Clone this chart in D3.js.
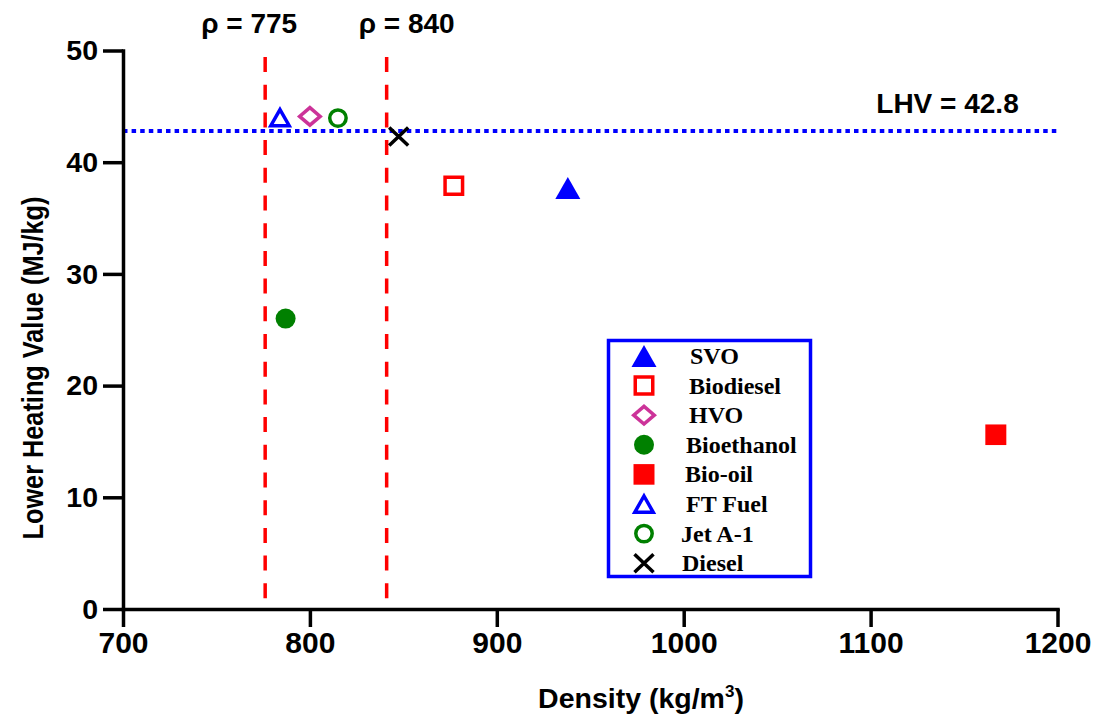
<!DOCTYPE html>
<html><head><meta charset="utf-8">
<script src="https://cdn.jsdelivr.net/npm/d3@7"></script>
<style>body{margin:0;background:#fff} svg{display:block}</style>
</head><body><svg id="c" width="1094" height="717"></svg>
<script>
// ---- data ----
const fuels   = ["SVO","Biodiesel","HVO","Bioethanol","Bio-oil","FT Fuel","Jet A-1","Diesel"];
const density = [938, 877, 800, 787, 1167, 784, 815, 847.5];
const lhv     = [37.7, 37.9, 44.1, 26.0, 15.6, 44.0, 43.95, 42.3];
const xTicks  = [700, 800, 900, 1000, 1100, 1200];
const yTicks  = [0, 10, 20, 30, 40, 50];
const densityLimits = [775, 840];
const densityLabels = ["ρ = 775", "ρ = 840"];
const lhvLimit = 42.8;
const lhvLabel = "LHV = 42.8";

// ---- styles ----
const markerStyle = {
  "SVO":        {shape:"triUp",   fill:"#0000FF", stroke:"none"},
  "Biodiesel":  {shape:"square",  fill:"none",    stroke:"#FF0000"},
  "HVO":        {shape:"diamond", fill:"none",    stroke:"#CC3399"},
  "Bioethanol": {shape:"circle",  fill:"#008000", stroke:"none"},
  "Bio-oil":    {shape:"squareF", fill:"#FF0000", stroke:"none"},
  "FT Fuel":    {shape:"triOpen", fill:"none",    stroke:"#0000FF"},
  "Jet A-1":    {shape:"circleO", fill:"none",    stroke:"#008000"},
  "Diesel":     {shape:"cross",   fill:"none",    stroke:"#000000"}
};
const legendIndent = [46, 45, 45, 42, 41, 42, 37, 38];
const shapes = {
  triUp:   {draw(c){c.moveTo(0,-11);c.lineTo(12.5,11);c.lineTo(-12.5,11);c.closePath();}},
  square:  {draw(c){c.rect(-8.75,-8.5,17.5,17);}},
  diamond: {draw(c){c.moveTo(0,-8.8);c.lineTo(10.3,0);c.lineTo(0,8.8);c.lineTo(-10.3,0);c.closePath();}},
  circle:  {draw(c){c.moveTo(10,0);c.arc(0,0,10,0,2*Math.PI);}},
  squareF: {draw(c){c.rect(-10.5,-10.3,21,20.6);}},
  triOpen: {draw(c){c.moveTo(0,-8);c.lineTo(9.2,8.2);c.lineTo(-9.2,8.2);c.closePath();}},
  circleO: {draw(c){c.moveTo(8.2,0);c.arc(0,0,8.2,0,2*Math.PI);}},
  cross:   {draw(c){c.moveTo(-9.5,-9);c.lineTo(9.5,9);c.moveTo(9.5,-9);c.lineTo(-9.5,9);}}
};

const svg = d3.select("#c");
const sans = "'Liberation Sans', Arial, sans-serif";
const serif = "'Liberation Serif', 'Times New Roman', serif";

const x = d3.scaleLinear().domain([700,1200]).range([123,1057.5]);
const y = d3.scaleLinear().domain([0,50]).range([609,50.5]);

// reference lines
svg.selectAll(".vref").data(densityLimits).join("line")
  .attr("x1", d=>x(d)+2).attr("x2", d=>x(d)+2)
  .attr("y1", 57).attr("y2", 600)
  .attr("stroke","#FF0000").attr("stroke-width",3.5)
  .attr("stroke-dasharray","15,12.7");

svg.append("line")
  .attr("x1", x(700)).attr("x2", x(1200))
  .attr("y1", y(lhvLimit)).attr("y2", y(lhvLimit))
  .attr("stroke","#0000FF").attr("stroke-width",4)
  .attr("stroke-dasharray","4.5,4.1");

// axes
const xAxis = svg.append("g").attr("transform",`translate(0,${y(0)})`)
  .call(d3.axisBottom(x).tickValues(xTicks).tickSize(18).tickSizeOuter(0).tickPadding(5).tickFormat(d3.format("d")));
const yAxis = svg.append("g").attr("transform",`translate(${x(700)},0)`)
  .call(d3.axisLeft(y).tickValues(yTicks).tickSize(20).tickSizeOuter(0).tickPadding(5).tickFormat(d3.format("d")));
[xAxis,yAxis].forEach(g=>{
  g.selectAll("path.domain").attr("stroke","#000").attr("stroke-width",3.5).attr("stroke-linecap","square");
  g.selectAll(".tick line").attr("stroke","#000").attr("stroke-width",3.5);
  g.selectAll(".tick text").attr("fill","#000").style("font-family",sans).style("font-weight","bold");
});
xAxis.selectAll(".tick text").style("font-size","30px");
yAxis.selectAll(".tick text").style("font-size","28.5px");

// points
svg.append("g").selectAll("path").data(fuels).join("path")
  .attr("transform",(d,i)=>`translate(${x(density[i])},${y(lhv[i])})`)
  .attr("d", d=>d3.symbol().type(shapes[markerStyle[d].shape])())
  .attr("fill", d=>markerStyle[d].fill)
  .attr("stroke", d=>markerStyle[d].stroke)
  .attr("stroke-width", 3.5);

// annotations
svg.selectAll(".dlab").data(densityLimits).join("text")
  .attr("x",(d,i)=> i===0 ? x(d)-14 : x(d)+22).attr("y",33)
  .attr("text-anchor","middle").style("font-family",sans).style("font-weight","bold").style("font-size","28px")
  .text((d,i)=>densityLabels[i]);
svg.append("text").attr("x",947.5).attr("y",y(lhvLimit)-18).attr("text-anchor","middle")
  .style("font-family",sans).style("font-weight","bold").style("font-size","28px").text(lhvLabel);

// axis titles
svg.append("text").attr("transform","translate(43,368) rotate(-90)").attr("text-anchor","middle")
  .attr("textLength",343).attr("lengthAdjust","spacingAndGlyphs")
  .style("font-family",sans).style("font-weight","bold").style("font-size","29px")
  .text("Lower Heating Value (MJ/kg)");
const xt = svg.append("text").attr("x",641).attr("y",708).attr("text-anchor","middle")
  .style("font-family",sans).style("font-weight","bold").style("font-size","28.5px");
xt.append("tspan").text("Density (kg/m");
xt.append("tspan").attr("dy",-11).style("font-size","17px").text("3");
xt.append("tspan").attr("dy",11).text(")");

// legend
const lg = svg.append("g");
lg.append("rect").attr("x",608.5).attr("y",340.5).attr("width",202).attr("height",236)
  .attr("fill","#fff").attr("stroke","#0000FF").attr("stroke-width",3.5);
const rows = lg.selectAll(".row").data(fuels).join("g")
  .attr("transform",(d,i)=>`translate(644,${356+i*29.6})`);
rows.append("path")
  .attr("d", d=>d3.symbol().type(shapes[markerStyle[d].shape])())
  .attr("fill", d=>markerStyle[d].fill)
  .attr("stroke", d=>markerStyle[d].stroke)
  .attr("stroke-width", 3.5);
rows.append("text").attr("x",(d,i)=>legendIndent[i]).attr("dy","0.33em")
  .style("font-family",serif).style("font-weight","bold").style("font-size","24px")
  .text(d=>d);
</script></body></html>
